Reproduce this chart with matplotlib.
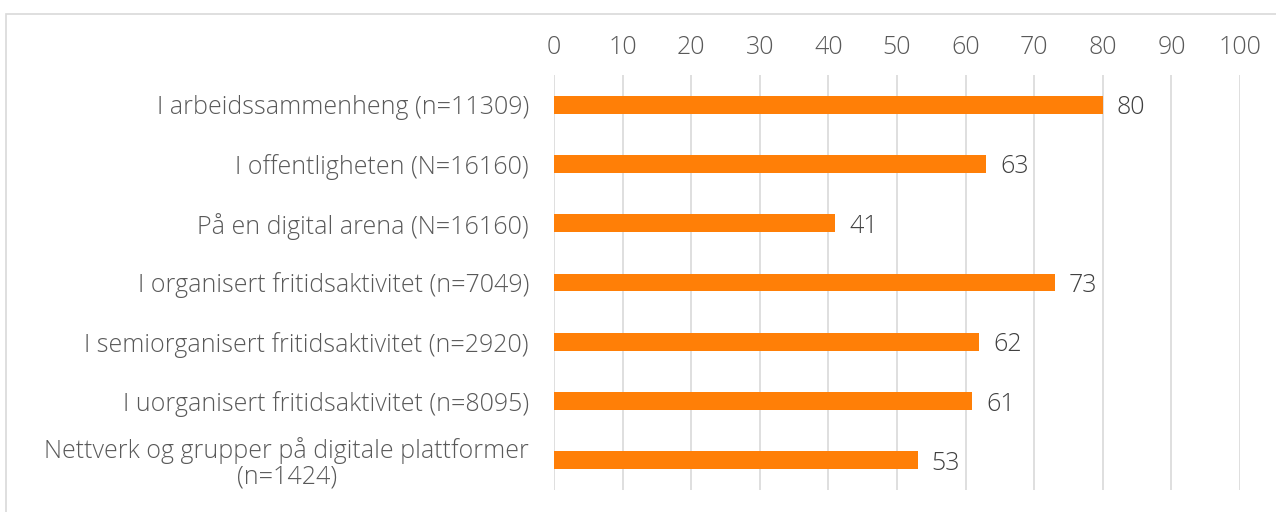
import matplotlib
matplotlib.use('Agg')
import matplotlib.pyplot as plt
from matplotlib.patches import Rectangle

categories = [
    'I arbeidssammenheng (n=11309)',
    'I offentligheten (N=16160)',
    'På en digital arena (N=16160)',
    'I organisert fritidsaktivitet (n=7049)',
    'I semiorganisert fritidsaktivitet (n=2920)',
    'I uorganisert fritidsaktivitet (n=8095)',
    'Nettverk og grupper på digitale plattformer\n(n=1424)',
]
values = [80, 63, 41, 73, 62, 61, 53]
xticks = list(range(0, 101, 10))

BAR = '#FF7F07'
GRID = '#D9D9D9'
TXT = '#595959'
FS = 18

plt.rcParams['font.family'] = ['Open Sans', 'DejaVu Sans']
plt.rcParams['font.weight'] = 'light'

fig = plt.figure(figsize=(12.76, 5.12), dpi=100)
fig.patches.append(Rectangle((6 / 1276, -0.1), 1.2, 1.1 - 14 / 512,
                             transform=fig.transFigure, fill=False,
                             edgecolor=GRID, linewidth=1.2))
ax = fig.add_axes([554 / 1276, 22 / 512, 686 / 1276, 415 / 512])

y = list(range(len(categories)))
ax.barh(y, values, height=0.3, color=BAR, zorder=3)
for yi, v in zip(y, values):
    ax.text(v + 2.0, yi + 0.05, str(v), va='center', ha='left', fontsize=FS,
            color='#404040', fontweight='light')

ax.set_ylim(len(categories) - 0.5, -0.5)
ax.set_xlim(0, 100)
ax.set_xticks(xticks)
ax.set_yticks(y)
ax.set_yticklabels(categories, fontsize=FS, color=TXT, multialignment='center',
                   fontweight='light', linespacing=1.0)
for t in ax.get_xticklabels():
    t.set_fontweight('light')
ax.xaxis.tick_top()
ax.tick_params(axis='x', length=0, pad=11, labelsize=FS, labelcolor=TXT)
ax.tick_params(axis='y', length=0, pad=18)
ax.grid(axis='x', color=GRID, linewidth=1.2, zorder=0)
for s in ax.spines.values():
    s.set_visible(False)

fig.savefig('out.png', dpi=100)
